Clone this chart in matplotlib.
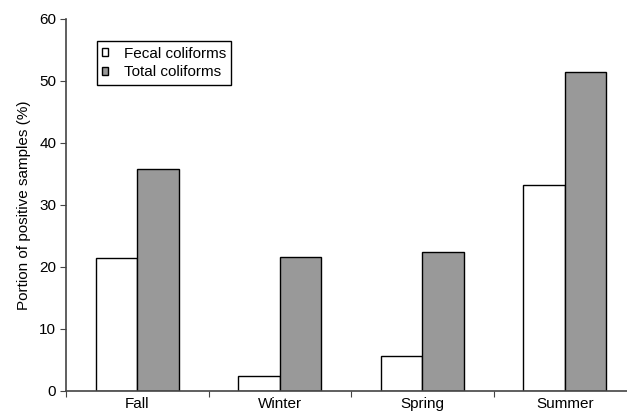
import numpy as np
import matplotlib.pyplot as plt
from matplotlib.patches import Patch

plt.rcParams['font.family'] = ['Liberation Sans', 'DejaVu Sans']

seasons = ['Fall', 'Winter', 'Spring', 'Summer']
fecal = [21.4, 2.4, 5.6, 33.3]
total = [35.8, 21.6, 22.5, 51.5]

fig = plt.figure(figsize=(6.27, 4.12), dpi=100)
ax = fig.add_axes([66/627, 21/412, 570/627, 372/412])

x = np.arange(len(seasons))
w = 0.29
ax.bar(x - w/2, fecal, width=w, color='white', edgecolor='black', linewidth=1.0)
ax.bar(x + w/2, total, width=w, color='#999999', edgecolor='black', linewidth=1.0)

ax.set_xlim(-0.5, len(seasons) - 0.5)
ax.set_ylim(0, 60)
ax.set_yticks(range(0, 61, 10))
ax.set_xticks(np.arange(-0.5, len(seasons), 1.0))
ax.set_xticklabels([])
ax.set_xticks(x, minor=True)
ax.set_xticklabels(seasons, minor=True, fontsize=11)
ax.tick_params(axis='x', which='minor', length=0, pad=4)
ax.tick_params(axis='x', which='major', length=4, color='#444444', direction='out')
ax.tick_params(axis='y', length=4, color='#444444', labelsize=11, pad=3)

for s in ['top', 'right']:
    ax.spines[s].set_visible(False)
for s in ['left', 'bottom']:
    ax.spines[s].set_color('#444444')
    ax.spines[s].set_linewidth(1.2)

ax.set_ylabel('Portion of positive samples (%)', fontsize=11, labelpad=6)

handles = [Patch(facecolor='white', edgecolor='black', label='Fecal coliforms'),
           Patch(facecolor='#999999', edgecolor='black', label='Total coliforms')]
leg = ax.legend(handles=handles, loc='upper left', bbox_to_anchor=(31/570, 0.94),
                fontsize=11, handlelength=0.4, handleheight=0.4, handletextpad=1.0,
                labelspacing=0.3, borderpad=0.35, fancybox=False, framealpha=1,
                edgecolor='black', borderaxespad=0)
leg.get_frame().set_linewidth(1.0)

plt.savefig('out.png', dpi=100)
